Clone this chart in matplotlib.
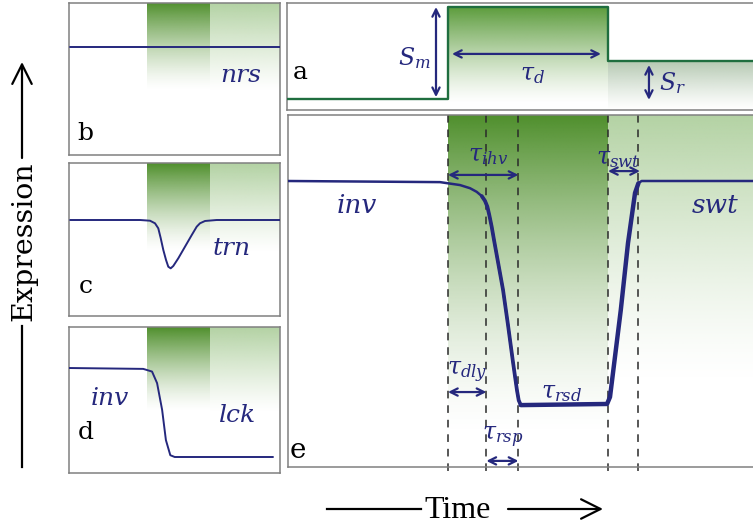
import numpy as np
import matplotlib
matplotlib.use("Agg")
import matplotlib.pyplot as plt
from matplotlib.colors import to_rgb

plt.rcParams['font.family'] = 'DejaVu Serif'
plt.rcParams['mathtext.fontset'] = 'dejavuserif'

W, H = 753, 529

# time is in units of the stimulus duration: stimulus on at 0, off at 1
# panel a: stimulus level
stim_t = [-1.02, 0, 0, 1, 1, 1.95]
stim_s = [0, 0, 1, 1, 0.41, 0.41]

# panel e: full response (expression, 1 = initial level)
e_t = [-1.0, -0.05, 0.075, 0.1375, 0.179, 0.211, 0.231, 0.246, 0.258, 0.273,
       0.2875, 0.344, 0.375, 0.406, 0.431, 0.442, 0.455, 0.994, 1.0125,
       1.08, 1.125, 1.169, 1.19, 1.21, 1.95]
e_x = [1.0, 0.995, 0.982, 0.968, 0.952, 0.933, 0.912, 0.886, 0.849, 0.797,
       0.738, 0.516, 0.36, 0.196, 0.07, 0.025, 0.004, 0.009, 0.04,
       0.427, 0.724, 0.947, 0.99, 1.0, 1.0]
e_marks = [0.0, 0.24, 0.44, 1.0, 1.19]

# panels b, c, d
nrs_t = [-1.22, 2.11]
nrs_x = [1.0, 1.0]
trn_t = [-1.22, -0.11, 0.048, 0.127, 0.179, 0.217, 0.259, 0.302, 0.338, 0.376,
         0.417, 0.497, 0.603, 0.71, 0.789, 0.841, 0.921, 1.106, 2.11]
trn_x = [1.0, 1.0, 0.992, 0.963, 0.907, 0.798, 0.663, 0.551, 0.475, 0.457,
         0.483, 0.570, 0.700, 0.831, 0.925, 0.963, 0.989, 1.0, 1.0]
lck_t = [-1.25, -0.06, 0.08, 0.16, 0.24, 0.30, 0.37, 0.44, 2.0]
lck_x = [1.0, 0.99, 0.96, 0.83, 0.53, 0.19, 0.02, 0.0, 0.0]

navy = '#25287d'
dgreen = '#4f8f2c'
lgreen = '#b3d2a3'
frame = '#808080'

fig = plt.figure(figsize=(W / 100, H / 100), dpi=100)


def panel(box, tmap, emap):
    # box: left, top, right, bottom in pixels
    # tmap: pixel of t=0, pixels per unit; emap: pixel of level 1, pixels per unit
    l, t, r, b = box
    ax = fig.add_axes([l / W, 1 - b / H, (r - l) / W, (b - t) / H])
    lims = ((l - tmap[0]) / tmap[1], (r - tmap[0]) / tmap[1],
            1 - (b - emap[0]) / emap[1], 1 - (t - emap[0]) / emap[1])
    ax.set_xticks([])
    ax.set_yticks([])
    for s in ax.spines.values():
        s.set_color(frame)
        s.set_linewidth(1.1)
    return ax, lims


def finish(ax, lims):
    ax.set_xlim(lims[0], lims[1])
    ax.set_ylim(lims[2], lims[3])


def shade(ax, t0, t1, top, bottom, color, power=1.0, amax=1.0):
    n = 256
    img = np.zeros((n, 1, 4))
    img[..., :3] = to_rgb(color)
    img[:, 0, 3] = amax * np.linspace(1, 0, n) ** power
    ax.imshow(img, extent=[t0, t1, bottom, top], origin='upper',
              aspect='auto', interpolation='bilinear', zorder=0)


def darrow(ax, p0, p1, lw=1.6, ms=13):
    ax.annotate('', xy=p1, xytext=p0,
                arrowprops=dict(arrowstyle='<->', color=navy, lw=lw,
                                mutation_scale=ms, shrinkA=0, shrinkB=0))


def curve(ax, t, x, lw):
    ax.plot(t, x, color=navy, lw=lw, zorder=4, solid_capstyle='round',
            solid_joinstyle='round')


# ---------------- panel a
ax, lims = panel((287, 3, 760, 110), (448, 160), (7, 92))
shade(ax, 0, 1, 1, -0.05, '#5c9c3c', power=1.3)
shade(ax, 1, lims[1], 0.41, -0.12, '#b5c9b2', power=1.2)
ax.plot(stim_t, stim_s, color='#1f6e3f', lw=1.7, zorder=3)
darrow(ax, (-0.075, 0.02), (-0.075, 1.0))
ax.text(-0.21, 0.45, r'$S_m$', fontsize=17, color=navy, ha='center', va='center')
darrow(ax, (0.025, 0.49), (0.956, 0.49))
ax.text(0.53, 0.27, r'$\tau_d$', fontsize=17, color=navy, ha='center', va='center')
darrow(ax, (1.256, -0.01), (1.256, 0.37))
ax.text(1.40, 0.17, r'$S_r$', fontsize=17, color=navy, ha='center', va='center')
ax.text(-0.925, 0.29, 'a', fontsize=18, ha='center', va='center')
finish(ax, lims)

# ---------------- panel e
ax, lims = panel((288, 115, 760, 467), (448, 160), (181, 225))
shade(ax, 0, 1, lims[3], -0.15, dgreen, power=1.6)
shade(ax, 1, lims[1], lims[3], 0.1, lgreen, power=1.4)
for m in e_marks:
    ax.plot([m, m], [lims[3], -0.31], color='#2a2a2a', lw=1.1,
            dashes=(5, 4.5), clip_on=False, zorder=2)
curve(ax, e_t, e_x, 1.8)
curve(ax, e_t[5:17], e_x[5:17], 2.7)
curve(ax, e_t[16:23], e_x[16:23], 3.2)
ax.text(-0.57, 0.89, 'inv', fontsize=19, style='italic', color=navy, ha='center', va='center')
ax.text(1.67, 0.89, 'swt', fontsize=19, style='italic', color=navy, ha='center', va='center')
ax.text(0.25, 1.115, r'$\tau_{ihv}$', fontsize=17, color=navy, ha='center', va='center')
darrow(ax, (0, 1.027), (0.44, 1.027))
ax.text(1.065, 1.10, r'$\tau_{swt}$', fontsize=17, color=navy, ha='center', va='center')
darrow(ax, (1.0, 1.044), (1.2, 1.044))
ax.text(0.12, 0.15, r'$\tau_{dly}$', fontsize=17, color=navy, ha='center', va='center')
darrow(ax, (0, 0.062), (0.24, 0.062))
ax.text(0.71, 0.06, r'$\tau_{rsd}$', fontsize=17, color=navy, ha='center', va='center')
ax.text(0.34, -0.14, r'$\tau_{rsp}$', fontsize=17, color=navy, ha='center', va='center')
darrow(ax, (0.24, -0.244), (0.44, -0.244))
ax.text(-0.94, -0.20, 'e', fontsize=20, ha='center', va='center')
finish(ax, lims)

# ---------------- panels b, c, d
small = [
    ((69, 3, 280, 155), 47, nrs_t, nrs_x, 'nrs', (1.48, 0.685), 'b', (-0.98, 0.03)),
    ((69, 163, 280, 316), 220, trn_t, trn_x, 'trn', (1.35, 0.685), 'c', (-0.98, 0.25)),
    ((69, 327, 280, 473), 368, lck_t, lck_x, 'lck', (1.43, 0.47), 'd', (-0.98, 0.27)),
]
for box, base, tt, xx, word, wpos, lab, lpos in small:
    ax, lims = panel(box, (147, 63), (base, 89))
    fade = 1 - (box[1] + 0.58 * (box[3] - box[1]) - base) / 89
    shade(ax, 0, 1, lims[3], fade, dgreen, power=1.4)
    shade(ax, 1, lims[1], lims[3], fade, lgreen, power=1.2)
    curve(ax, tt, xx, 1.4)
    ax.text(wpos[0], wpos[1], word, fontsize=18, style='italic', color=navy,
            ha='center', va='center')
    ax.text(lpos[0], lpos[1], lab, fontsize=18, ha='center', va='center')
    finish(ax, lims)
    if word == 'lck':
        ax.text(-0.59, 0.66, 'inv', fontsize=18, style='italic', color=navy,
                ha='center', va='center')

# ---------------- axis labels
ov = fig.add_axes([0, 0, 1, 1], zorder=-1)
ov.set_xlim(0, W)
ov.set_ylim(H, 0)
ov.axis('off')
ov.plot([22, 22], [467, 326], color='black', lw=1.6)
ov.annotate('', xy=(22, 62), xytext=(22, 158),
            arrowprops=dict(arrowstyle='->, head_length=0.7, head_width=0.35',
                            color='black', lw=1.6, mutation_scale=20,
                            shrinkA=0, shrinkB=0))
ov.text(24, 241, 'Expression', fontsize=20.5, rotation=90, ha='center', va='center')
ov.plot([327, 421], [509, 509], color='black', lw=1.6)
ov.annotate('', xy=(603, 509), xytext=(508, 509),
            arrowprops=dict(arrowstyle='->, head_length=0.7, head_width=0.35',
                            color='black', lw=1.6, mutation_scale=20,
                            shrinkA=0, shrinkB=0))
ov.text(458, 518, 'Time', fontsize=23, family='Liberation Serif',
        ha='center', va='baseline')

fig.savefig('out.png', dpi=100)
